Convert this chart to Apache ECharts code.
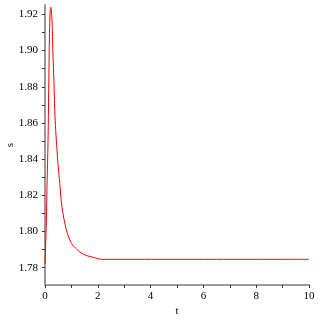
<!DOCTYPE html>
<html><head><meta charset="utf-8">
<script src="https://cdn.jsdelivr.net/npm/echarts@6/dist/echarts.min.js"></script>
<style>html,body{margin:0;padding:0;background:#fff}#c{width:320px;height:320px}</style>
</head><body><div id="c"></div>
<script>
var tValues = [0, 0.05, 0.077, 0.114, 0.14, 0.17, 0.2, 0.22, 0.24, 0.265, 0.30, 0.34, 0.37, 0.405, 0.49, 0.56, 0.64, 0.81, 1.0, 1.2, 1.375, 1.6, 1.88, 2.15, 3, 4, 5, 6, 7, 8, 9, 10];
var sValues = [1.782, 1.8045, 1.826, 1.849, 1.878, 1.9095, 1.923, 1.924, 1.922, 1.917, 1.8985, 1.882, 1.867, 1.856, 1.8377, 1.8266, 1.8137, 1.8008, 1.7935, 1.7902, 1.788, 1.7866, 1.7855, 1.7846, 1.7846, 1.7846, 1.7846, 1.7846, 1.7846, 1.7846, 1.7846, 1.7846];
var xTicks = [0, 2, 4, 6, 8, 10];
var yTicks = [1.78, 1.80, 1.82, 1.84, 1.86, 1.88, 1.90, 1.92];
var yMinorTicks = [1.79, 1.81, 1.83, 1.85, 1.87, 1.89, 1.91];
var xName = 't';
var yName = 's';

var data = tValues.map(function(t, i){ return [t, sValues[i]]; });
var font = 'Liberation Serif';
var chart = echarts.init(document.getElementById('c'));
chart.setOption({
  animation: false,
  grid: {left: 45, right: 11, top: 5, bottom: 35, containLabel: false, outerBoundsMode: 'none'},
  xAxis: {
    type: 'value', min: 0, max: 10, interval: 2,
    name: xName, nameLocation: 'middle', nameGap: 21, nameMoveOverlap: false,
    nameTextStyle: {fontFamily: font, fontSize: 11, color: '#000'},
    axisLine: {show: true, onZero: false, lineStyle: {color: '#999', width: 2}},
    axisTick: {show: true, length: 3, lineStyle: {color: '#333'}},
    minorTick: {show: true, splitNumber: 2, length: 3, lineStyle: {color: '#333'}},
    axisLabel: {fontFamily: font, fontSize: 11, color: '#000', margin: 6},
    splitLine: {show: false}
  },
  yAxis: {
    type: 'value', min: 1.7704, max: 1.9252,
    name: yName, nameLocation: 'middle', nameGap: 29, nameRotate: 90, nameMoveOverlap: false,
    nameTextStyle: {fontFamily: font, fontSize: 11, color: '#000'},
    axisLine: {show: true, onZero: false, lineStyle: {color: '#999', width: 2}},
    axisTick: {show: true, length: 3, lineStyle: {color: '#333'},
      customValues: yTicks.concat(yMinorTicks)},
    axisLabel: {fontFamily: font, fontSize: 11, color: '#000', margin: 7,
      customValues: yTicks,
      formatter: function(v){ return v.toFixed(2); }},
    splitLine: {show: false}
  },
  series: [{
    type: 'line', data: data, showSymbol: false, smooth: 0.3,
    lineStyle: {color: '#ff0000', width: 1}, itemStyle: {color: '#ff0000'}
  }]
});
</script></body></html>
